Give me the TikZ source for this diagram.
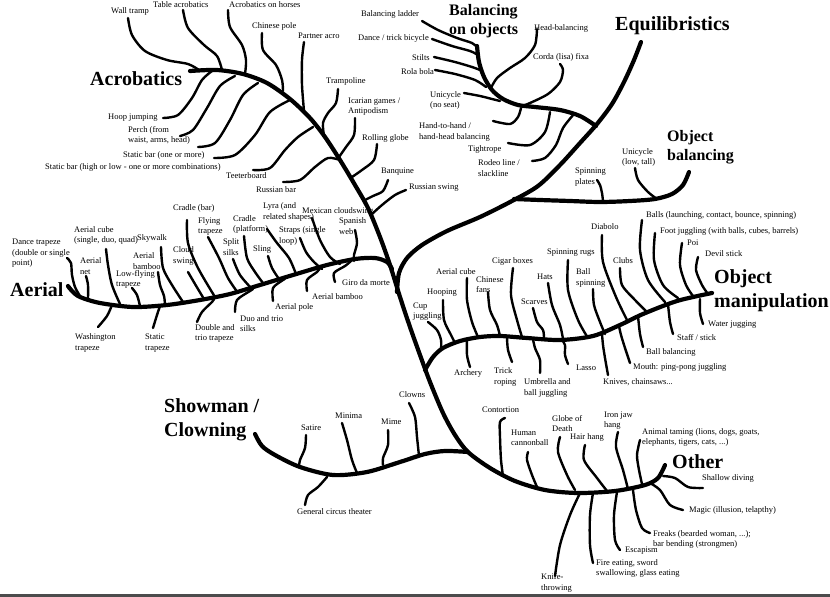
\documentclass[tikz,border=0pt]{standalone}
\usepackage{fontspec}
\setmainfont{Liberation Serif}
\tikzset{limb/.style={line width=4.2pt, line cap=round, line join=round},
  twig/.style={line width=2.4pt, line cap=round},
  lbl/.style={anchor=west, inner sep=0pt, align=left, font=\fontsize{8.5}{10.5}\selectfont},
  ttl/.style={anchor=west, inner sep=0pt, align=left, font=\fontsize{20}{24}\selectfont\bfseries},
  sttl/.style={ttl, font=\fontsize{16}{19}\selectfont\bfseries}}

\begin{document}
\begin{tikzpicture}[x=1pt, y=-1pt]
  \useasboundingbox (0,0) rectangle (830,597);
  \fill[black!70] (0,593.5) rectangle (830,597);
  % titles
  \foreach \n/\x/\y/\t in {acro/90/79/{Acrobatics}, equi/615/26/{Equilibristics},
      aerial/10/290/{Aerial}, objman/714/291/{Object\\manipulation},
      show/164/420/{Showman /\\Clowning}, other/672/462/{Other}}
    \node[ttl] (\n) at (\x,\y) {\t};
  \foreach \n/\x/\y/\t in {boo/449/21.5/{Balancing\\on objects}, objbal/667/147.5/{Object\\balancing}}
    \node[sttl] (\n) at (\x,\y) {\t};
  % trunk and main limbs
  \draw[limb] plot[smooth] coordinates {(190,71) (217,70) (243,74) (267,83) (290,99) (310,118)
    (325,137) (340,160) (355,185) (368,208) (380,237) (390,265) (400,297) (410,327) (420,355)
    (430,382) (443,413) (455,435) (468,452) (490,468) (515,481) (545,490) (578,493) (615,491)
    (645,485) (658,478) (665,465)};
  \draw[limb] plot[smooth] coordinates {(397,292) (399,273) (407,258) (422,245) (447,231) (480,217)
    (512,201) (538,186) (560,165) (580,143) (597,124) (612,104) (624,82) (634,60) (641,42)};
  \draw[limb] plot[smooth] coordinates {(596,126) (580,116) (560,110) (535,107) (518,105) (503,99)
    (492,90) (484,77) (479,62) (477,46)};
  \draw[limb] plot[smooth] coordinates {(514,199) (540,200) (570,201) (600,202) (630,201) (655,199)
    (672,194) (683,185) (689,172)};
  \draw[limb] plot[smooth] coordinates {(68,286) (72,291) (80,297) (100,303) (133,307) (167,305)
    (200,300) (230,294) (260,285) (293,275) (327,265) (355,259) (375,258) (387,262) (392,269)};
  \draw[limb] plot[smooth] coordinates {(425,370) (433,357) (443,348) (460,341) (480,337) (500,336)
    (527,338) (560,340) (593,336) (620,325) (643,314) (677,301) (712,293)};
  \draw[limb] plot[smooth] coordinates {(255,434) (262,446) (275,455) (300,467) (333,475) (367,472)
    (400,462) (425,454) (445,451) (468,452)};

  % acrobatics
  \foreach \n/\x/\y/\t in {walltr/111/11/{Wall tramp}, table/153/4.5/{Table acrobatics},
      horses/229/4.5/{Acrobatics on horses}, cpole/252/26/{Chinese pole}, partner/298/36/{Partner acro},
      hoop/108/118/{Hoop jumping}, perch/128/135.5/{Perch (from\\waist, arms, head)},
      sbone/123/155/{Static bar (one or more)},
      sbhigh/45/167/{Static bar (high or low - one or more combinations)},
      teeter/226/176/{Teeterboard}, rbar/256/190/{Russian bar}, tramp/326/81/{Trampoline},
      icarian/348/106.5/{Icarian games /\\Antipodism}, rglobe/362/138/{Rolling globe},
      banquine/381/172/{Banquine}, rswing/409/188/{Russian swing}}
    \node[lbl] (\n) at (\x,\y) {\t};
  \draw[twig] plot[smooth] coordinates {(128,18) (132,35) (145,51) (167,60) (188,64) (199,70)};
  \draw[twig] plot[smooth] coordinates {(183,10) (188,28) (204,45) (217,56) (222,70)};
  \draw[twig] plot[smooth] coordinates {(228,10) (230,27) (242,45) (246,60) (245,74)};
  \draw[twig] plot[smooth] coordinates {(262,33) (263,50) (276,65) (282,80) (283,91)};
  \draw[twig] plot[smooth] coordinates {(304,42) (302,60) (302,85) (304,111)};
  \draw[twig] plot[smooth] coordinates {(163,118) (178,115) (192,98) (202,80) (212,71)};
  \draw[twig] plot[smooth] coordinates {(180,136) (193,130) (207,108) (220,86) (235,76)};
  \draw[twig] plot[smooth] coordinates {(198,147) (215,143) (230,120) (243,95) (258,83)};
  \draw[twig] plot[smooth] coordinates {(214,158) (235,155) (255,135) (270,112) (290,100)};
  \draw[twig] plot[smooth] coordinates {(253,170) (270,168) (285,150) (298,137) (313,127)};
  \draw[twig] plot[smooth] coordinates {(283,182) (300,180) (315,167) (328,158) (340,160)};
  \draw[twig] plot[smooth] coordinates {(338,89) (336,103) (328,113) (323,123) (324,136)};
  \draw[twig] plot[smooth] coordinates {(355,118) (354,135) (346,147) (339,157)};
  \draw[twig] plot[smooth] coordinates {(377,144) (374,160) (362,170) (352,177)};
  \draw[twig] plot[smooth] coordinates {(388,180) (383,191) (373,196) (365,200)};
  \draw[twig] plot[smooth] coordinates {(406,190) (395,195) (382,205) (372,214)};

  % equilibristics
  \foreach \n/\x/\y/\t in {ladder/361/14/{Balancing ladder}, bicycle/358/38/{Dance / trick bicycle},
      stilts/412/58/{Stilts}, rola/401/72/{Rola bola}, hbal/534/28/{Head-balancing},
      corda/533/57/{Corda (lisa) fixa}, uni/430/100.5/{Unicycle\\(no seat)},
      hand/419/132/{Hand-to-hand /\\hand-head balancing}, tight/468/149/{Tightrope},
      rodeo/478/168/{Rodeo line /\\slackline}, unilow/622/157.5/{Unicycle\\(low, tall)},
      plates/575/177/{Spinning\\plates}}
    \node[lbl] (\n) at (\x,\y) {\t};
  \draw[twig] plot[smooth] coordinates {(422,21) (438,30) (457,38) (472,43) (477,47)};
  \draw[twig] plot[smooth] coordinates {(432,39) (452,46) (470,51) (478,55)};
  \draw[twig] plot[smooth] coordinates {(434,57) (455,62) (472,67) (480,70)};
  \draw[twig] plot[smooth] coordinates {(435,70) (455,74) (475,80) (486,87)};
  \draw[twig] plot[smooth] coordinates {(464,93) (480,96) (492,99) (500,101)};
  \draw[twig] plot[smooth] coordinates {(537,29) (535,45) (525,58) (510,68) (497,78) (491,88)};
  \draw[twig] plot[smooth] coordinates {(560,64) (563,70) (560,82) (548,94) (530,103) (522,106)};
  \draw[twig] plot[smooth] coordinates {(493,121) (510,124) (518,117) (521,108)};
  \draw[twig] plot[smooth] coordinates {(508,143) (530,145) (545,132) (550,112)};
  \draw[twig] plot[smooth] coordinates {(532,161) (545,158) (556,145) (563,128) (574,114)};
  \draw[twig] plot[smooth] coordinates {(597,180) (600,185) (602,193) (603,201)};
  \draw[twig] plot[smooth] coordinates {(635,168) (638,180) (648,192) (657,199)};

  % aerial
  \foreach \n/\x/\y/\t in {dtrap/12/253.5/{Dance trapeze\\(double or single\\point)},
      acube/74/235.5/{Aerial cube\\(single, duo, quad)}, skywalk/137/238/{Skywalk},
      anet/80/266/{Aerial\\net}, abamboo/133/261/{Aerial\\bamboo}, lowfly/116/279.5/{Low-flying\\trapeze},
      cloud/173/256/{Cloud\\swing}, cbar/173/208/{Cradle (bar)}, flying/198/226.5/{Flying\\trapeze},
      split/223/247/{Split\\silks}, cplat/233/224.5/{Cradle\\(platform)}, sling/253/249/{Sling},
      lyra/263/212/{Lyra (and\\related shapes)}, mexican/302/211/{Mexican cloudswing},
      straps/279/236/{Straps (single\\loop)}, spanish/339/226/{Spanish\\web},
      giro/342/283/{Giro da morte}, apbamboo/312/297/{Aerial bamboo}, apole/275/307/{Aerial pole},
      duo/240/323.5/{Duo and trio\\silks}, double/195/333.5/{Double and\\trio trapeze},
      washing/75/343/{Washington\\trapeze}, sttrap/145/343/{Static\\trapeze}}
    \node[lbl] (\n) at (\x,\y) {\t};
  \draw[twig] plot[smooth] coordinates {(67,258) (71,263) (72,275) (75,287) (80,296)};
  \draw[twig] plot[smooth] coordinates {(86,276) (88,285) (88,298)};
  \draw[twig] plot[smooth] coordinates {(106,249) (108,265) (112,285) (120,304)};
  \draw[twig] plot[smooth] coordinates {(132,288) (137,295) (140,306)};
  \draw[twig] plot[smooth] coordinates {(158,272) (160,285) (164,296) (165,305)};
  \draw[twig] plot[smooth] coordinates {(161,247) (163,268) (172,285) (183,302)};
  \draw[twig] plot[smooth] coordinates {(188,272) (195,284) (204,299)};
  \draw[twig] plot[smooth] coordinates {(187,220) (188,243) (198,268) (215,297)};
  \draw[twig] plot[smooth] coordinates {(208,237) (219,258) (228,278) (238,293)};
  \draw[twig] plot[smooth] coordinates {(233,259) (240,275) (252,289)};
  \draw[twig] plot[smooth] coordinates {(244,236) (247,258) (255,272) (263,283)};
  \draw[twig] plot[smooth] coordinates {(268,256) (272,268) (279,279)};
  \draw[twig] plot[smooth] coordinates {(267,229) (277,243) (289,258) (296,274)};
  \draw[twig] plot[smooth] coordinates {(300,238) (306,252) (314,262) (322,269)};
  \draw[twig] plot[smooth] coordinates {(312,218) (320,240) (330,257) (340,264)};
  \draw[twig] plot[smooth] coordinates {(355,230) (357,243) (354,255) (354,261)};
  \draw[twig] plot[smooth] coordinates {(335,282) (334,273) (345,266) (351,261)};
  \draw[twig] plot[smooth] coordinates {(307,291) (307,280) (317,272) (320,268)};
  \draw[twig] plot[smooth] coordinates {(273,301) (273,288) (283,280) (285,279)};
  \draw[twig] plot[smooth] coordinates {(235,312) (237,300) (250,291) (253,289)};
  \draw[twig] plot[smooth] coordinates {(197,322) (202,312) (212,302) (214,299)};
  \draw[twig] plot[smooth] coordinates {(153,328) (157,315) (160,306)};
  \draw[twig] plot[smooth] coordinates {(98,327) (107,316) (112,305)};

  % object manipulation
  \foreach \n/\x/\y/\t in {cup/413/311.5/{Cup\\juggling}, hooping/427/293/{Hooping},
      acube2/436/272/{Aerial cube}, fans/476/284.5/{Chinese\\fans}, cigar/492/261/{Cigar boxes},
      hats/537/277/{Hats}, scarves/521/302/{Scarves}, rugs/547/253/{Spinning rugs},
      bspin/576/278/{Ball\\spinning}, diabolo/591/227/{Diabolo}, clubs/613/261/{Clubs},
      balls/646/215/{Balls (launching, contact, bounce, spinning)},
      foot/660/231/{Foot juggling (with balls, cubes, barrels)}, poi/687/243/{Poi},
      devil/705/254/{Devil stick}, water/708/325/{Water jugging}, staff/677/338/{Staff / stick},
      bbal/646/352/{Ball balancing}, mouth/633/367/{Mouth: ping-pong juggling},
      knives/603/382/{Knives, chainsaws...}, archery/454/373/{Archery}, trick/494/377/{Trick\\roping},
      umbrella/524/388/{Umbrella and\\ball juggling}, lasso/576/368/{Lasso}}
    \node[lbl] (\n) at (\x,\y) {\t};
  \draw[twig] plot[smooth] coordinates {(428,322) (437,330) (441,340) (441,350)};
  \draw[twig] plot[smooth] coordinates {(443,300) (444,320) (451,335) (455,343)};
  \draw[twig] plot[smooth] coordinates {(467,278) (467,300) (472,322) (478,337)};
  \draw[twig] plot[smooth] coordinates {(488,292) (490,310) (497,325) (500,336)};
  \draw[twig] plot[smooth] coordinates {(513,268) (511,295) (517,320) (522,337)};
  \draw[twig] plot[smooth] coordinates {(533,308) (537,322) (543,330) (544,338)};
  \draw[twig] plot[smooth] coordinates {(548,283) (552,305) (560,325) (563,339)};
  \draw[twig] plot[smooth] coordinates {(568,260) (568,290) (578,320) (588,338)};
  \draw[twig] plot[smooth] coordinates {(593,289) (594,305) (600,322) (605,334)};
  \draw[twig] plot[smooth] coordinates {(602,235) (603,262) (616,297) (628,322)};
  \draw[twig] plot[smooth] coordinates {(620,268) (622,285) (635,300) (647,312)};
  \draw[twig] plot[smooth] coordinates {(642,220) (640,250) (648,280) (665,302)};
  \draw[twig] plot[smooth] coordinates {(655,233) (654,260) (663,285) (678,298)};
  \draw[twig] plot[smooth] coordinates {(682,243) (680,265) (686,285) (693,296)};
  \draw[twig] plot[smooth] coordinates {(698,257) (696,270) (702,285) (708,294)};
  \draw[twig] plot[smooth] coordinates {(703,324) (700,313) (700,299)};
  \draw[twig] plot[smooth] coordinates {(673,334) (670,322) (668,304)};
  \draw[twig] plot[smooth] coordinates {(643,347) (640,334) (638,316)};
  \draw[twig] plot[smooth] coordinates {(630,363) (625,348) (621,335) (619,326)};
  \draw[twig] plot[smooth] coordinates {(608,375) (605,358) (603,345) (602,334)};
  \draw[twig] plot[smooth] coordinates {(568,364) (565,355) (565,345) (562,340)};
  \draw[twig] plot[smooth] coordinates {(540,373) (540,360) (535,348) (533,339)};
  \draw[twig] plot[smooth] coordinates {(512,362) (508,350) (507,338)};
  \draw[twig] plot[smooth] coordinates {(470,367) (467,355) (467,339)};

  % showman / clowning
  \foreach \n/\x/\y/\t in {satire/301/428/{Satire}, minima/335/416/{Minima}, mime/381/422/{Mime},
      clowns/399/395/{Clowns}, general/297/512/{General circus theater}}
    \node[lbl] (\n) at (\x,\y) {\t};
  \draw[twig] plot[smooth] coordinates {(306,435) (305,448) (300,460) (299,466)};
  \draw[twig] plot[smooth] coordinates {(342,423) (347,440) (352,460) (357,473)};
  \draw[twig] plot[smooth] coordinates {(388,430) (388,445) (383,458) (383,465)};
  \draw[twig] plot[smooth] coordinates {(409,403) (415,417) (417,437) (419,456)};
  \draw[twig] plot[smooth] coordinates {(305,505) (308,495) (318,487) (327,477)};

  % other
  \foreach \n/\x/\y/\t in {contort/482/410/{Contortion}, human/511/438/{Human\\cannonball},
      gdeath/552/423.5/{Globe of\\Death}, hair/570/437/{Hair hang}, ironjaw/604/420.5/{Iron jaw\\hang},
      animal/642/437.5/{Animal taming (lions, dogs, goats,\\elephants, tigers, cats, ...)},
      diving/702/478/{Shallow diving}, magic/689/510/{Magic (illusion, telapthy)},
      freaks/653/539.5/{Freaks (bearded woman, ...);\\bar bending (strongmen)},
      escap/625/551/{Escapism}, fire/596/568.5/{Fire eating, sword\\swallowing, glass eating},
      knife/541/583/{Knife-\\throwing}}
    \node[lbl] (\n) at (\x,\y) {\t};
  \draw[twig] plot[smooth] coordinates {(505,418) (500,422) (500,437) (501,460) (503,476)};
  \draw[twig] plot[smooth] coordinates {(528,452) (527,460) (532,475) (537,487)};
  \draw[twig] plot[smooth] coordinates {(560,437) (558,452) (567,475) (575,490)};
  \draw[twig] plot[smooth] coordinates {(585,445) (584,460) (597,478) (607,491)};
  \draw[twig] plot[smooth] coordinates {(618,432) (616,447) (623,470) (628,489)};
  \draw[twig] plot[smooth] coordinates {(640,440) (637,455) (639,470) (642,484)};
  \draw[twig] plot[smooth] coordinates {(663,476) (675,478) (688,487) (703,488)};
  \draw[twig] plot[smooth] coordinates {(650,483) (660,490) (670,505) (683,510)};
  \draw[twig] plot[smooth] coordinates {(633,490) (636,510) (642,528) (650,533)};
  \draw[twig] plot[smooth] coordinates {(617,492) (614,515) (615,540) (620,550)};
  \draw[twig] plot[smooth] coordinates {(593,493) (590,515) (590,545) (593,563)};
  \draw[twig] plot[smooth] coordinates {(580,493) (570,515) (560,545) (555,576)};
\end{tikzpicture}
\end{document}
